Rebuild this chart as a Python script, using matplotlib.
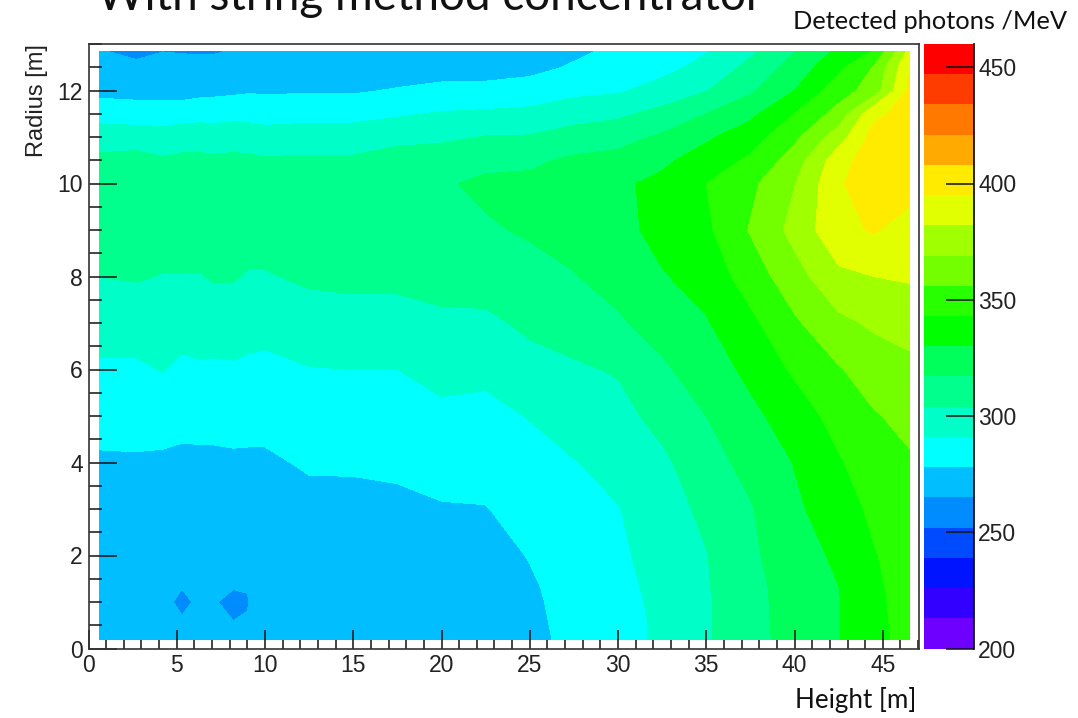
import numpy as np
import matplotlib
matplotlib.use("Agg")
import matplotlib.pyplot as plt
from matplotlib.ticker import MultipleLocator

heights = [0.6, 2.7, 4.2, 5.3, 6.4, 7, 8.2, 9, 10, 12.5, 15, 17.5, 20, 22.5, 25, 27.5, 30, 32.5, 35, 37.5, 40, 42.5, 44.5, 46.5]
radii = [0.2, 0.6, 1, 1.3, 2, 3, 4, 5, 6, 7, 8, 9, 10, 10.5, 11, 11.5, 12, 12.5, 12.83]

# detected photons, one line per height
photons_by_height = [
    [272, 272, 272, 272, 273, 274, 276.5, 282, 289, 296.5, 304, 309, 309, 307, 297.5, 286, 274, 268, 266],
    [271, 271, 271, 271, 272, 273, 276.5, 283, 289, 297, 305, 310, 310, 309, 297, 285, 273, 267.5, 262.5],
    [270, 268, 268, 268, 271, 273, 276, 283, 291.5, 297.5, 303.5, 310, 311, 305.5, 296, 285, 273, 267, 265],
    [270, 266, 262.5, 265.2, 270, 273, 275.5, 281.5, 288.5, 296, 303.5, 310, 312, 307, 297.5, 286, 272, 266.5, 264.8],
    [270, 267, 267.5, 267, 270.5, 273, 275.5, 282, 289.5, 296.5, 303.5, 310, 312, 307, 297.5, 287, 274, 267, 264.5],
    [270, 266.5, 266, 266.5, 270, 273, 275.5, 282, 289, 297, 305, 310, 312, 306.5, 297, 286.5, 274.5, 267, 264.5],
    [268.5, 265, 262.5, 265.3, 270, 272.5, 276, 282.5, 289.5, 297, 305, 310, 312, 307, 298, 287.5, 275.5, 268, 265.5],
    [270, 265.5, 264.5, 265.3, 270, 273, 276, 282, 288.5, 296, 303, 310, 312, 306.5, 297.5, 287, 276.5, 268, 266],
    [270, 270, 270, 270, 271, 273, 276, 282, 288, 295, 303, 310, 311.5, 305.5, 296, 286, 276.5, 268.5, 266.5],
    [270, 270, 270, 270, 271, 274, 279.5, 285, 290.5, 298.5, 306, 311, 311, 306, 297, 287, 276.5, 268, 266],
    [270.5, 270.5, 271, 271, 272, 274.5, 279.5, 285.5, 291, 299, 307, 312, 311.5, 306, 297, 287, 276.5, 268.5, 266.5],
    [271, 271, 271, 271.5, 272.5, 275, 280.5, 285.5, 291, 299, 307, 312.5, 313, 310, 300, 289.5, 279, 271, 268.5],
    [272, 272, 272, 272.5, 273.5, 277, 283, 288.5, 294.5, 301.5, 308.5, 313.5, 315.5, 311, 301.5, 292, 281.5, 272, 269],
    [273, 273, 273, 273.5, 274, 277.5, 283, 288, 293.5, 301.5, 309.5, 315.5, 319.5, 313.5, 304.5, 293, 282, 272, 270],
    [275, 275.5, 276, 276.5, 278.5, 283, 287, 291.5, 299.5, 306.5, 312.5, 318.5, 319.5, 315, 305, 294, 284, 274, 272],
    [281, 281.5, 282, 282.5, 284, 287.5, 290.5, 296.5, 302.5, 309, 316.5, 321, 323, 319, 310, 298, 288, 279.5, 275.5],
    [287, 287, 287.5, 288, 289, 290.5, 295, 300, 305, 315.5, 321, 325.5, 328, 321, 312.5, 301.5, 289.5, 284, 281],
    [293, 293, 293.5, 294, 295.5, 298, 301.5, 308, 315, 322, 329, 334.5, 333, 327.5, 319, 308, 296, 287, 284],
    [302.5, 302.5, 302.5, 303, 303.5, 307, 312, 317, 323.5, 329, 335, 340.5, 343, 336, 328, 317, 303.5, 295, 290.5],
    [313, 313, 313, 313, 314.5, 316, 321, 327, 333, 340, 349, 357, 353, 345, 337, 327, 315, 307.5, 302],
    [321.5, 322, 322.5, 323, 325, 328, 330.5, 336, 345, 354, 364, 373, 368.5, 362, 353, 343, 330, 322, 317],
    [329.5, 329.5, 329.5, 329.8, 332, 336, 341.5, 348, 355, 366, 379, 392, 393, 390, 376, 361, 350, 340, 333],
    [338.5, 339, 339.5, 340, 342, 346, 351, 355, 362, 371, 382, 396, 405, 402, 400, 392, 362, 357, 344],
    [348, 348.5, 349, 349.5, 350.5, 352.5, 354.5, 359.5, 366, 373.5, 383.5, 390, 400, 402, 402, 400, 398, 393.5, 386],
]

levels = [200, 213, 226, 239, 252, 265, 278, 291, 304, 317, 330, 343, 356, 369, 382, 395, 408, 421, 434, 447, 460]
band_colors = ["#6e00ff", "#3200ff", "#0014ff", "#004bff", "#008cff", "#00beff", "#00ffff", "#00ffc8",
               "#00ff8c", "#00ff5a", "#00ff00", "#28ff00", "#73ff00", "#a0ff00", "#e1ff00", "#ffeb00",
               "#ffaa00", "#ff7800", "#ff3c00", "#ff0000"]
bar_ticks = [200, 250, 300, 350, 400, 450]

W, H = 1078, 718
ink = "#222222"

fig = plt.figure(figsize=(W / 100, H / 100), dpi=100)
ax = fig.add_axes([88.5 / W, 1 - 648.5 / H, (919 - 88.5) / W, (648.5 - 44) / H])
cax = fig.add_axes([924 / W, 1 - 648.5 / H, 50 / W, (648.5 - 44) / H])

photons = np.array(photons_by_height).T
cs = ax.contourf(heights, radii, photons, levels=levels, colors=band_colors)

ax.set_xlim(0, 47.05)
ax.set_ylim(0, 13)
ax.xaxis.set_major_locator(MultipleLocator(5))
ax.xaxis.set_minor_locator(MultipleLocator(1))
ax.yaxis.set_major_locator(MultipleLocator(2))
ax.yaxis.set_minor_locator(MultipleLocator(0.5))
ax.tick_params(axis="x", which="major", direction="in", length=13.5, width=1.1, color="#111111",
               labelsize=16.5, labelcolor=ink, pad=4)
ax.tick_params(axis="x", which="minor", direction="in", length=6.5, width=1.1, color="#111111")
ax.tick_params(axis="y", which="major", direction="in", length=20, width=1.1, color="#111111",
               labelsize=16.5, labelcolor=ink, pad=4)
ax.tick_params(axis="y", which="minor", direction="in", length=9.5, width=1.1, color="#111111")
for label in ax.get_xticklabels() + ax.get_yticklabels():
    label.set_fontfamily("Liberation Sans")
for spine in ax.spines.values():
    spine.set_linewidth(1.2)
    spine.set_color("#333333")

cbar = fig.colorbar(cs, cax=cax, ticks=bar_ticks)
cbar.outline.set_visible(False)
cax.spines["right"].set_visible(True)
cax.spines["right"].set_linewidth(1.2)
cax.tick_params(axis="y", direction="in", length=20, width=1.1, color="#111111",
                labelsize=16.5, labelcolor=ink, pad=3)
for label in cax.get_yticklabels():
    label.set_fontfamily("Liberation Sans")

fig.text(37 / W, 1 - 44 / H, "Radius [m]", rotation=90, ha="center", va="top",
         fontsize=17, color=ink, family="Liberation Sans")
fig.text(97 / W, 1 - 10 / H, "With string method concentrator", ha="left", va="baseline",
         fontsize=33, color="#111111", family="Lato")
fig.text(1067 / W, 1 - 29 / H, "Detected photons /MeV", ha="right", va="baseline",
         fontsize=18.3, color="#111111", family="Lato")
fig.text(916 / W, 1 - 708 / H, "Height [m]", ha="right", va="baseline",
         fontsize=18.7, color="#111111", family="Lato")

fig.savefig("out.png", dpi=100)
